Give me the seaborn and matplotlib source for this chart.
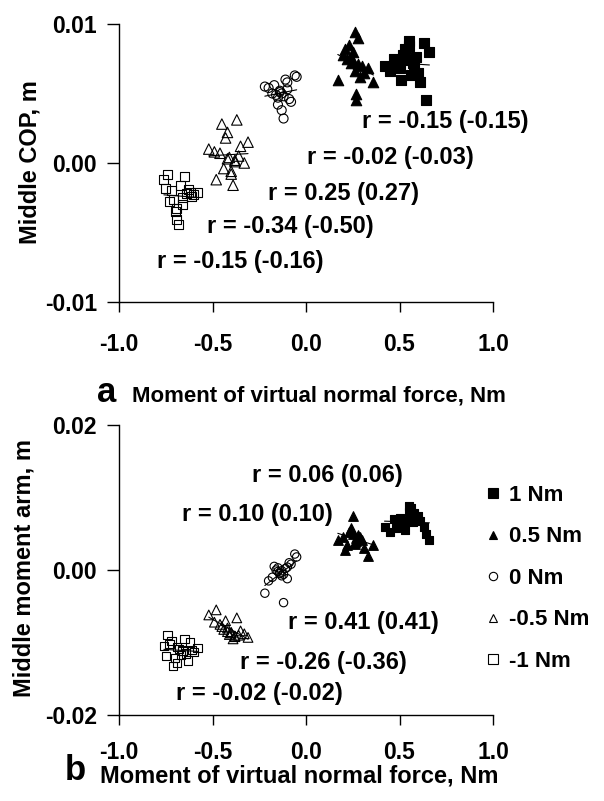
import numpy as np
import pandas as pd
import matplotlib
matplotlib.use("Agg")
import matplotlib.pyplot as plt
from matplotlib.lines import Line2D
import seaborn as sns

# --- Data ---
torques = ["1 Nm", "0.5 Nm", "0 Nm", "-0.5 Nm", "-1 Nm"]

# moment of virtual normal force, Nm (same trials in both panels)
x_pos1 = [0.42, 0.47, 0.50, 0.53, 0.55, 0.57, 0.60, 0.52, 0.56, 0.48,
          0.63, 0.54, 0.58, 0.51, 0.66, 0.45, 0.59, 0.55, 0.61, 0.64]
x_pos05 = [0.17, 0.22, 0.25, 0.28, 0.31, 0.24, 0.27, 0.20, 0.33, 0.26,
           0.29, 0.23, 0.36, 0.25, 0.30, 0.21, 0.27, 0.26, 0.24, 0.28]
x_zero = [-0.22, -0.15, -0.10, -0.18, -0.12, -0.05, -0.14, -0.08, -0.16, -0.11,
          -0.13, -0.20, -0.09, -0.14, -0.17, -0.06, -0.12, -0.15, -0.10, -0.13]
x_neg05 = [-0.52, -0.45, -0.40, -0.36, -0.43, -0.48, -0.38, -0.33, -0.42, -0.39,
           -0.46, -0.35, -0.41, -0.37, -0.44, -0.31, -0.40, -0.49, -0.38, -0.42]
x_neg1 = [-0.76, -0.66, -0.72, -0.61, -0.69, -0.74, -0.64, -0.70, -0.58, -0.67,
          -0.73, -0.63, -0.68, -0.71, -0.65, -0.60, -0.69, -0.75, -0.66, -0.62]

# panel a: middle COP, m
cop_pos1 = [0.0070, 0.0075, 0.0068, 0.0082, 0.0088, 0.0072, 0.0065, 0.0078, 0.0063, 0.0071,
            0.0086, 0.0074, 0.0069, 0.0060, 0.0080, 0.0066, 0.0076, 0.0084, 0.0058, 0.0045]
cop_pos05 = [0.0060, 0.0075, 0.0080, 0.0090, 0.0065, 0.0072, 0.0050, 0.0078, 0.0068, 0.0094,
             0.0062, 0.0085, 0.0058, 0.0073, 0.0070, 0.0082, 0.0045, 0.0066, 0.0076, 0.0071]
cop_zero = [0.0055, 0.0047, 0.0058, 0.0050, 0.0032, 0.0062, 0.0052, 0.0044, 0.0049, 0.0060,
            0.0038, 0.0054, 0.0046, 0.0051, 0.0056, 0.0063, 0.0048, 0.0042, 0.0053, 0.0050]
cop_neg05 = [0.0010, 0.0028, -0.0008, 0.0005, 0.0018, -0.0012, 0.0002, 0.0000, 0.0022, -0.0016,
             0.0007, 0.0012, 0.0004, 0.0031, -0.0004, 0.0015, -0.0006, 0.0008, 0.0001, 0.0003]
cop_neg1 = [-0.0012, -0.0030, -0.0020, -0.0024, -0.0041, -0.0008, -0.0022, -0.0035, -0.0021, -0.0016,
            -0.0028, -0.0019, -0.0044, -0.0026, -0.0010, -0.0023, -0.0033, -0.0018, -0.0025, -0.0021]

# panel b: middle moment arm, m
arm_pos1 = [0.0060, 0.0070, 0.0072, 0.0055, 0.0080, 0.0066, 0.0075, 0.0062, 0.0085, 0.0058,
            0.0060, 0.0068, 0.0078, 0.0064, 0.0042, 0.0052, 0.0071, 0.0088, 0.0067, 0.0050]
arm_pos05 = [0.0042, 0.0035, 0.0050, 0.0048, 0.0030, 0.0055, 0.0040, 0.0045, 0.0020, 0.0038,
             0.0046, 0.0052, 0.0034, 0.0075, 0.0041, 0.0028, 0.0044, 0.0036, 0.0058, 0.0043]
arm_zero = [-0.0032, -0.0002, 0.0004, -0.0010, -0.0045, 0.0018, -0.0005, 0.0008, 0.0000, 0.0002,
            -0.0008, -0.0015, 0.0010, -0.0004, 0.0005, 0.0022, -0.0006, 0.0003, -0.0012, -0.0001]
arm_neg05 = [-0.0062, -0.0078, -0.0086, -0.0090, -0.0070, -0.0055, -0.0092, -0.0088, -0.0080, -0.0095,
             -0.0075, -0.0084, -0.0089, -0.0066, -0.0082, -0.0093, -0.0087, -0.0072, -0.0091, -0.0085]
arm_neg1 = [-0.0105, -0.0112, -0.0098, -0.0110, -0.0128, -0.0090, -0.0115, -0.0121, -0.0108, -0.0117,
            -0.0102, -0.0125, -0.0109, -0.0132, -0.0095, -0.0113, -0.0106, -0.0119, -0.0111, -0.0100]

r_text_a = ["r = -0.15 (-0.15)", "r = -0.02 (-0.03)", "r = 0.25 (0.27)",
            "r = -0.34 (-0.50)", "r = -0.15 (-0.16)"]
r_text_b = ["r = 0.06 (0.06)", "r = 0.10 (0.10)", "r = 0.41 (0.41)",
            "r = -0.26 (-0.36)", "r = -0.02 (-0.02)"]

xs = [x_pos1, x_pos05, x_zero, x_neg05, x_neg1]
cops = [cop_pos1, cop_pos05, cop_zero, cop_neg05, cop_neg1]
arms = [arm_pos1, arm_pos05, arm_zero, arm_neg05, arm_neg1]

rows = []
for t, xv, cv, av in zip(torques, xs, cops, arms):
    for a, b, c in zip(xv, cv, av):
        rows.append({"torque": t, "moment": a, "cop": b, "arm": c})
df = pd.DataFrame(rows)

# --- Styling ---
sns.set_theme(style="white")
plt.rcParams["font.family"] = ["Liberation Sans", "DejaVu Sans"]
plt.rcParams["font.weight"] = "bold"
plt.rcParams["text.color"] = "black"
plt.rcParams["axes.labelcolor"] = "black"

W, H = 604, 801
MARKERS = {"1 Nm": ("s", True), "0.5 Nm": ("^", True), "0 Nm": ("o", False),
           "-0.5 Nm": ("^", False), "-1 Nm": ("s", False)}

def px(x, y):
    return x / W, 1 - y / H

fig = plt.figure(figsize=(W / 100, H / 100), dpi=100)
fig.patch.set_facecolor("white")
ax_a = fig.add_axes([119 / W, 1 - 302 / H, 374 / W, 278 / H])
ax_b = fig.add_axes([119 / W, 1 - 715 / H, 374 / W, 290 / H])


def draw_panel(ax, col, size, ylim, yticks, ytl, xpad):
    for t in torques:
        m, filled = MARKERS[t]
        sub = df[df["torque"] == t]
        s = size * (1.35 if m == "^" else 1.0)
        sns.scatterplot(data=sub, x="moment", y=col, ax=ax, marker=m, s=s,
                        facecolors="black" if filled else "none",
                        edgecolors="black", linewidth=0.8, legend=False, zorder=2)
        sns.regplot(data=sub, x="moment", y=col, ax=ax, scatter=False, ci=None,
                    color="black", line_kws={"lw": 0.8, "zorder": 3})
    ax.set_xlim(-1.0, 1.0)
    ax.set_ylim(*ylim)
    ax.set_xticks([-1.0, -0.5, 0.0, 0.5, 1.0])
    ax.set_xticklabels(["-1.0", "-0.5", "0.0", "0.5", "1.0"])
    ax.set_yticks(yticks)
    ax.set_yticklabels(ytl)
    ax.set_xlabel("")
    ax.set_ylabel("")
    for side in ["top", "right"]:
        ax.spines[side].set_visible(False)
    for side in ["left", "bottom"]:
        ax.spines[side].set_color("black")
        ax.spines[side].set_linewidth(1.0)
    ax.tick_params(axis="y", direction="out", length=9, width=1, pad=7,
                   labelsize=16.5, colors="black", left=True)
    ax.tick_params(axis="x", direction="out", length=7, width=1, pad=xpad,
                   labelsize=16.5, colors="black", bottom=True)
    for lab in ax.get_xticklabels() + ax.get_yticklabels():
        lab.set_fontweight("bold")
    ax.set_facecolor("white")
    ax.grid(False)


draw_panel(ax_a, "cop", 42, (-0.01, 0.01), [-0.01, 0.0, 0.01], ["-0.01", "0.00", "0.01"], 15)
draw_panel(ax_b, "arm", 36, (-0.02, 0.02), [-0.02, 0.0, 0.02], ["-0.02", "0.00", "0.02"], 12)

# correlation annotations (left edge, center)
pos_a = [(0.30, 0.0030), (0.005, 0.0004), (-0.203, -0.0022), (-0.529, -0.0046), (-0.797, -0.0071)]
pos_b = [(-0.289, 0.0131), (-0.663, 0.0076), (-0.096, -0.0073), (-0.353, -0.0127), (-0.695, -0.0170)]
for txt, (tx, ty) in zip(r_text_a, pos_a):
    ax_a.text(tx, ty, txt, fontsize=17, fontweight="bold", ha="left", va="center",
              color="black", clip_on=False)
for txt, (tx, ty) in zip(r_text_b, pos_b):
    ax_b.text(tx, ty, txt, fontsize=17, fontweight="bold", ha="left", va="center",
              color="black", clip_on=False)

# axis labels and panel letters
fig.text(*px(30, 162), "Middle COP, m", rotation=90, ha="center", va="center",
         fontsize=17, fontweight="bold", color="black")
fig.text(*px(24, 568), "Middle moment arm, m", rotation=90, ha="center", va="center",
         fontsize=17, fontweight="bold", color="black")
fig.text(*px(132, 396), "Moment of virtual normal force, Nm", ha="left", va="center",
         fontsize=16, fontweight="bold", color="black")
fig.text(*px(100, 776), "Moment of virtual normal force, Nm", ha="left", va="center",
         fontsize=17, fontweight="bold", color="black")
fig.text(*px(107, 392), "a", ha="center", va="center", fontsize=25, fontweight="bold",
         color="black")
fig.text(*px(75, 770), "b", ha="center", va="center", fontsize=25, fontweight="bold",
         color="black")

# legend
handles = []
for t in torques:
    m, filled = MARKERS[t]
    handles.append(Line2D([], [], marker=m, ls="none", ms=6.5 if m == "s" else 6,
                          mfc="black" if filled else "white", mec="black", mew=0.8))
leg = fig.legend(handles, torques, loc="upper left", bbox_to_anchor=px(486, 485),
                 bbox_transform=fig.transFigure, frameon=False, fontsize=16,
                 handlelength=0.6, handletextpad=0.45, labelspacing=0.92,
                 borderpad=0, borderaxespad=0)
for txt in leg.get_texts():
    txt.set_fontweight("bold")
    txt.set_color("black")

fig.savefig("out.png", dpi=100, facecolor="white")
